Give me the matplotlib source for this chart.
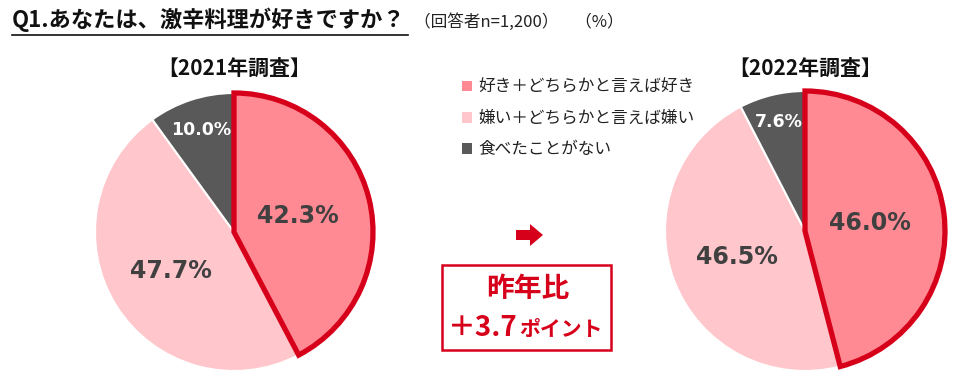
import matplotlib
matplotlib.use('Agg')
import numpy as np
import matplotlib.pyplot as plt
from matplotlib.patches import Patch, Rectangle, Polygon

plt.rcParams['font.family'] = ['Noto Sans CJK JP', 'DejaVu Sans']

categories = ['好き＋どちらかと言えば好き', '嫌い＋どちらかと言えば嫌い', '食べたことがない']
values_2021 = [42.3, 47.7, 10.0]
values_2022 = [46.0, 46.5, 7.6]
titles = ['【2021年調査】', '【2022年調査】']
diff_text = '＋3.7'

colors = ['#FF8A93', '#FFC6CC', '#595959']
red = '#D7001A'
text_dark = '#404040'

W, H = 970, 375
fig = plt.figure(figsize=(W / 100, H / 100), dpi=100)

# overlay in pixel coordinates for annotations
ov = fig.add_axes([0, 0, 1, 1])
ov.set_xlim(0, W)
ov.set_ylim(H, 0)
ov.axis('off')


def draw_pie(cx, cy, r, values, title, dists):
    ax = fig.add_axes([(cx - r) / W, (H - cy - r) / H, 2 * r / W, 2 * r / H])
    wedges, _ = ax.pie(values, colors=colors, startangle=90, counterclock=False,
                       wedgeprops=dict(edgecolor='white', linewidth=1.5))
    ax.set_xlim(-1, 1)
    ax.set_ylim(-1, 1)
    ax.set_aspect('equal')
    for w in wedges:
        w.set_clip_on(False)
    wedges[0].set_edgecolor(red)
    wedges[0].set_linewidth(3.8)
    wedges[0].set_zorder(5)
    wedges[0].set_joinstyle('miter')
    for i, (w, v) in enumerate(zip(wedges, values)):
        ang = np.deg2rad((w.theta1 + w.theta2) / 2)
        x, y = dists[i] * np.cos(ang), dists[i] * np.sin(ang)
        if i == 2:
            ax.text(x, y, f'{v:.1f}%', ha='center', va='center', color='white',
                    fontsize=12.5, fontweight='bold', family='DejaVu Sans', zorder=6)
        else:
            ax.text(x, y, f'{v:.1f}%', ha='center', va='center', color=text_dark,
                    fontsize=17, fontweight='bold', family='DejaVu Sans', zorder=6)
    ov.text(cx, 68, title, ha='center', va='center', fontsize=15,
            fontweight='bold', color='#111111')


draw_pie(234, 232, 139, values_2021, titles[0], [0.47, 0.53, 0.77])
draw_pie(805, 231, 140, values_2022, titles[1], [0.47, 0.52, 0.80])

# title with underline
ov.text(12, 20, 'Q1.あなたは、激辛料理が好きですか？', ha='left', va='center',
        fontsize=16, fontweight='bold', color='#111111')
ov.plot([12, 408], [35, 35], color='#111111', lw=1.2)
ov.text(414, 22, '（回答者n=1,200）　（%）', ha='left', va='center',
        fontsize=12, color='#222222')

# legend
handles = [Patch(facecolor=c, edgecolor='none') for c in colors]
fig.legend(handles, categories, loc='upper left',
           bbox_to_anchor=(447 / W, 1 - 64 / H), frameon=False, fontsize=12,
           handlelength=0.6, handleheight=0.6, handletextpad=0.4,
           labelspacing=0.85, labelcolor='#222222')

# arrow
ov.add_patch(Polygon([(516, 230), (530, 230), (530, 224), (543, 235),
                      (530, 246), (530, 240), (516, 240)],
                     closed=True, facecolor=red, edgecolor='none'))

# change box
ov.add_patch(Rectangle((442, 265), 169, 85, fill=False, edgecolor=red, lw=1.8))
ov.text(528, 289, '昨年比', ha='center', va='center', fontsize=20,
        fontweight='bold', color=red)
ov.text(518, 336, diff_text, ha='right', va='baseline', fontsize=20,
        fontweight='bold', color=red)
ov.text(519, 336, 'ポイント', ha='left', va='baseline', fontsize=15,
        fontweight='bold', color=red)

fig.savefig('out.png', dpi=100)
